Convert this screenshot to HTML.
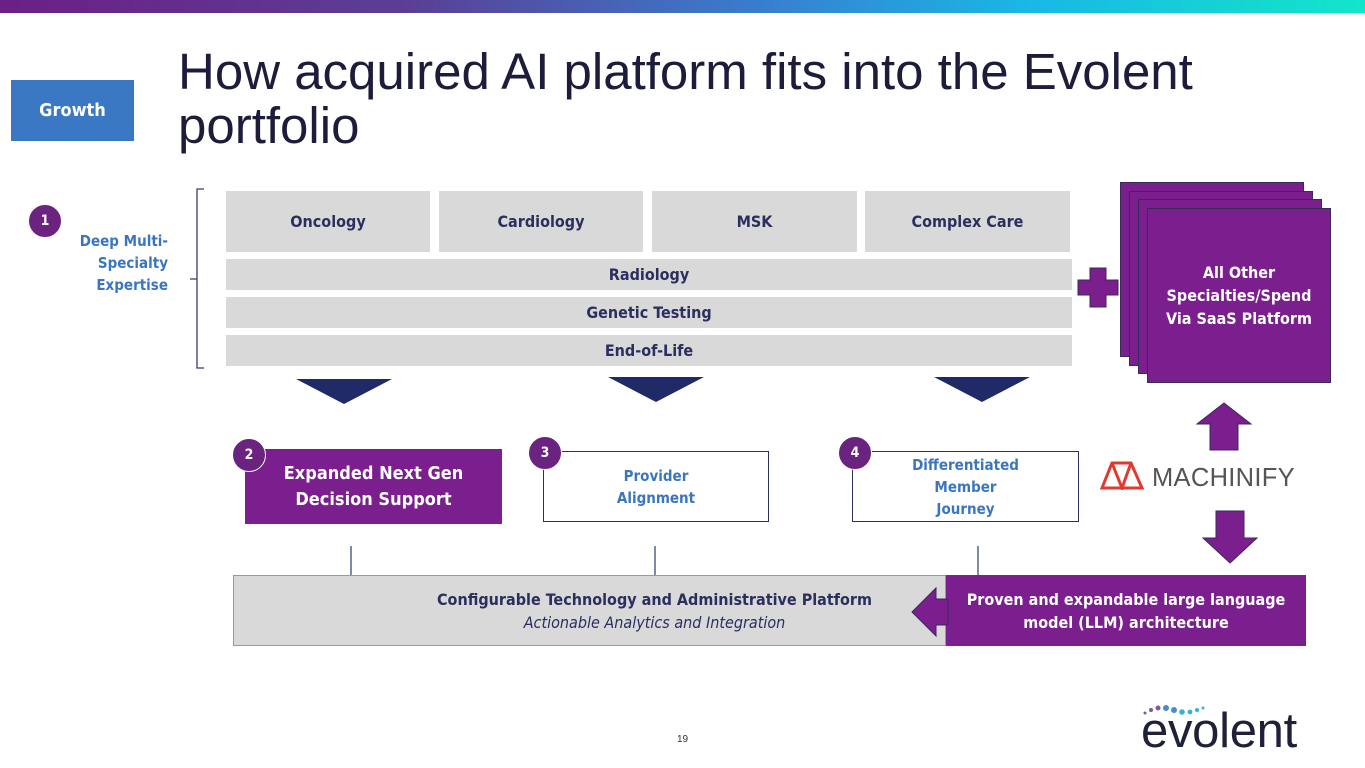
<!DOCTYPE html>
<html><head><meta charset="utf-8"><style>
*{margin:0;padding:0;box-sizing:border-box}
body{width:1365px;height:768px;position:relative;background:#fff;font-family:"Liberation Sans",sans-serif;overflow:hidden}
.a{position:absolute}
.g{background:#d9d9d9;color:#2a2f5e;font-weight:bold;font-size:16px;display:flex;align-items:center;justify-content:center;font-family:"DejaVu Sans Condensed","Liberation Sans",sans-serif}
.c{position:absolute;width:34px;height:34px;border-radius:50%;background:#6b2380;color:#fff;font-weight:bold;font-size:14px;display:flex;align-items:center;justify-content:center;border:1px solid #fff;font-family:"DejaVu Sans Condensed",sans-serif}
.cd{position:absolute;width:184px;height:175px;background:#7b1e8e;border:1px solid #3a2a5a}
.f{display:flex;align-items:center;justify-content:center;text-align:center;font-family:"DejaVu Sans Condensed","Liberation Sans",sans-serif;font-weight:bold}
</style></head><body>
<div class="a" style="left:0;top:0;width:1365px;height:13px;background:linear-gradient(90deg,#6c1f85 0%,#5a3f95 30%,#3a7ccc 55%,#19b7e6 75%,#12e6c9 100%)"></div>
<div class="a f" style="left:11px;top:80px;width:123px;height:61px;background:#3b78c4;color:#fff;font-size:18px">Growth</div>
<div class="a" style="left:178px;top:45px;font-size:51px;line-height:54px;color:#1d1d3b;width:1150px">How acquired AI platform fits into the Evolent<br>portfolio</div>

<div class="c" style="left:28px;top:204px">1</div>
<div class="a f" style="left:60px;top:230px;width:108px;justify-content:flex-end;text-align:right;color:#3a75c0;font-size:15px;line-height:22px">Deep Multi-<br>Specialty<br>Expertise</div>
<svg class="a" style="left:185px;top:185px" width="25" height="192"><path d="M19 4 H12 V183 H19 M12 94 H5" fill="none" stroke="#3a3a6a" stroke-width="1.3"/></svg>

<div class="a g" style="left:226px;top:191px;width:204px;height:61px">Oncology</div>
<div class="a g" style="left:439px;top:191px;width:204px;height:61px">Cardiology</div>
<div class="a g" style="left:652px;top:191px;width:205px;height:61px">MSK</div>
<div class="a g" style="left:865px;top:191px;width:205px;height:61px">Complex Care</div>
<div class="a g" style="left:226px;top:259px;width:846px;height:31px">Radiology</div>
<div class="a g" style="left:226px;top:297px;width:846px;height:31px">Genetic Testing</div>
<div class="a g" style="left:226px;top:335px;width:846px;height:31px">End-of-Life</div>

<svg class="a" style="left:0;top:0" width="1365" height="768">
<polygon points="296,379 392,379 344,404" fill="#1f2a66"/>
<polygon points="608,377 704,377 656,402" fill="#1f2a66"/>
<polygon points="934,377 1030,377 982,402" fill="#1f2a66"/>
<g stroke="#2a3a6a" stroke-width="1.2"><line x1="351" y1="546" x2="351" y2="575"/><line x1="655" y1="546" x2="655" y2="575"/><line x1="978" y1="546" x2="978" y2="575"/></g>
<path d="M1090 268 h16 v12 h12 v15 h-12 v12 h-16 v-12 h-12 v-15 h12z" fill="#7b1e8e" stroke="#3a2a5a"/>
<path d="M1224 403 L1251 424 H1238 V450 H1210 V424 H1197Z" fill="#7b1e8e" stroke="#3a2a5a"/>
<path d="M1230 563 L1257 538 H1244 V511 H1216 V538 H1203Z" fill="#7b1e8e" stroke="#3a2a5a"/>
</svg>

<div class="cd" style="left:1120px;top:182px"></div>
<div class="cd" style="left:1129px;top:191px"></div>
<div class="cd" style="left:1138px;top:199px"></div>
<div class="cd f" style="left:1147px;top:208px;color:#fff;font-size:16px;line-height:23px">All Other<br>Specialties/Spend<br>Via SaaS Platform</div>

<div class="a f" style="left:245px;top:449px;width:257px;height:75px;background:#7b1e8e;color:#fff;font-size:18px;line-height:26px">Expanded Next Gen<br>Decision Support</div>
<div class="c" style="left:232px;top:438px">2</div>
<div class="a f" style="left:543px;top:451px;width:226px;height:71px;border:1px solid #2a2f5e;color:#3a75c0;font-size:15px;line-height:22px">Provider<br>Alignment</div>
<div class="c" style="left:528px;top:436px">3</div>
<div class="a f" style="left:852px;top:451px;width:227px;height:71px;border:1px solid #2a2f5e;color:#3a75c0;font-size:15px;line-height:22px">Differentiated<br>Member<br>Journey</div>
<div class="c" style="left:838px;top:436px">4</div>

<svg class="a" style="left:1100px;top:460px" width="44" height="30"><path d="M2 28 L12 3 H31 L42 28 Z M12 3 L22 28 L31 3" fill="none" stroke="#e03a2e" stroke-width="3"/></svg>
<div class="a" style="left:1152px;top:464px;font-size:25.5px;color:#555;letter-spacing:0.3px">MACHINIFY</div>

<div class="a f" style="left:233px;top:575px;width:713px;height:71px;background:#d9d9d9;border:1px solid #999;flex-direction:column;font-size:16px;color:#2a2f5e;line-height:23px;padding-left:130px"><div>Configurable Technology and Administrative Platform</div><div style="font-weight:normal;font-style:italic">Actionable Analytics and Integration</div></div>
<div class="a f" style="left:946px;top:575px;width:360px;height:71px;background:#7b1e8e;color:#fff;font-size:16px;line-height:23px">Proven and expandable large language<br>model (LLM) architecture</div>
<svg class="a" style="left:910px;top:585px" width="40" height="54"><path d="M2 27 L26 3 V14 H38 V40 H26 V51 Z" fill="#7b1e8e" stroke="#3a2a5a"/></svg>

<div class="a" style="left:677px;top:734px;font-size:10px;color:#333">19</div>
<svg class="a" style="left:1140px;top:702px" width="80" height="18"><g fill="#7a5aa0"><circle cx="5" cy="11" r="1.5"/><circle cx="11" cy="8" r="2"/><circle cx="18" cy="6" r="2.5"/></g><g fill="#4a8ad0"><circle cx="26" cy="6" r="3"/><circle cx="34" cy="8" r="3"/></g><g fill="#3ab0d8"><circle cx="42" cy="10" r="2.8"/><circle cx="50" cy="10" r="2.4"/><circle cx="57" cy="8" r="2"/><circle cx="63" cy="6" r="1.5"/></g></svg>
<div class="a" style="left:1141px;top:703px;font-size:49px;color:#1e2138;letter-spacing:-0.3px">evolent</div>
</body></html>
